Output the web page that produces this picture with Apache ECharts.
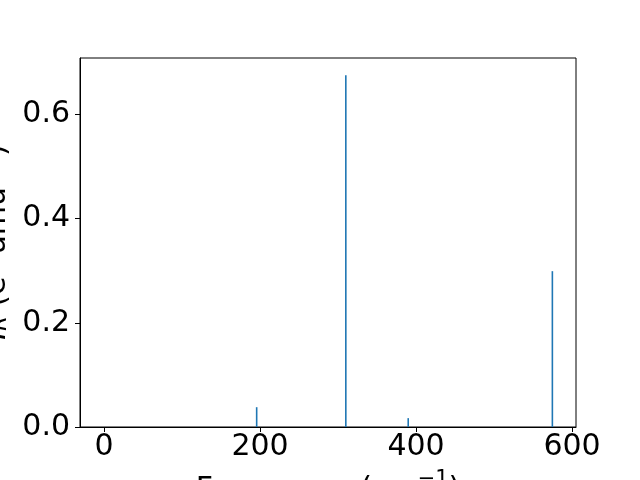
<!DOCTYPE html>
<html>
<head>
<meta charset="utf-8">
<script src="https://cdn.jsdelivr.net/npm/echarts@6/dist/echarts.min.js"></script>
<style>html,body{margin:0;padding:0;background:#fff}#c{width:640px;height:480px}</style>
</head>
<body>
<div id="c"></div>
<script>
var frequencies = [195.7, 310, 390, 574.8];
var intensities = [0.038, 0.675, 0.017, 0.299];
var xTicks = [0, 200, 400, 600];
var yTicks = [0.0, 0.2, 0.4, 0.6];

var chart = echarts.init(document.getElementById('c'), null, {renderer: 'canvas'});
var font = 'DejaVu Sans';
var data = frequencies.map(function (f, i) { return [f, intensities[i]]; });
chart.setOption({
  animation: false,
  backgroundColor: '#fff',
  grid: {left: 80, top: 58, right: 64, bottom: 53, show: true, borderColor: '#000', borderWidth: 1, backgroundColor: 'transparent'},
  xAxis: {
    type: 'value', min: -30.8, max: 605.1,
    splitLine: {show: false},
    axisLine: {show: true, onZero: false, lineStyle: {color: '#000', width: 1}},
    axisTick: {show: true, length: 5, lineStyle: {color: '#000'}, customValues: xTicks},
    axisLabel: {color: '#000', fontFamily: font, fontSize: 30, margin: 5, customValues: xTicks}
  },
  yAxis: {
    type: 'value', min: 0, max: 0.708,
    splitLine: {show: false},
    axisLine: {show: true, onZero: false, lineStyle: {color: '#000', width: 1}},
    axisTick: {show: true, length: 5, lineStyle: {color: '#000'}, customValues: yTicks},
    axisLabel: {color: '#000', fontFamily: font, fontSize: 30, margin: 10, customValues: yTicks,
      formatter: function (v) { return v.toFixed(1); }}
  },
  series: [{
    type: 'bar', data: data, barWidth: 1.6,
    itemStyle: {color: '#1f77b4'}
  }],
  graphic: [
    {type: 'text', x: 328, y: 490, style: {
      text: 'Frequency (cm{sup|−1})', fontFamily: font, fontSize: 30, fill: '#000',
      align: 'center', verticalAlign: 'middle',
      rich: {sup: {fontSize: 21, fontFamily: font, fill: '#000', verticalAlign: 'top', padding: [0,0,20,0]}}
    }},
    {type: 'text', x: -3, y: 242, rotation: Math.PI / 2, style: {
      text: '{it|I}{sub|R} (e{sup|2} amu{sup|−1})', fontFamily: font, fontSize: 30, fill: '#000',
      align: 'center', verticalAlign: 'middle',
      rich: {
        it: {fontStyle: 'italic', fontSize: 30, fontFamily: font, fill: '#000'},
        sub: {fontStyle: 'italic', fontSize: 21, fontFamily: font, fill: '#000', padding: [8,0,0,0]},
        sup: {fontSize: 21, fontFamily: font, fill: '#000', padding: [0,0,12,0]}
      }
    }}
  ]
});
</script>
</body>
</html>
